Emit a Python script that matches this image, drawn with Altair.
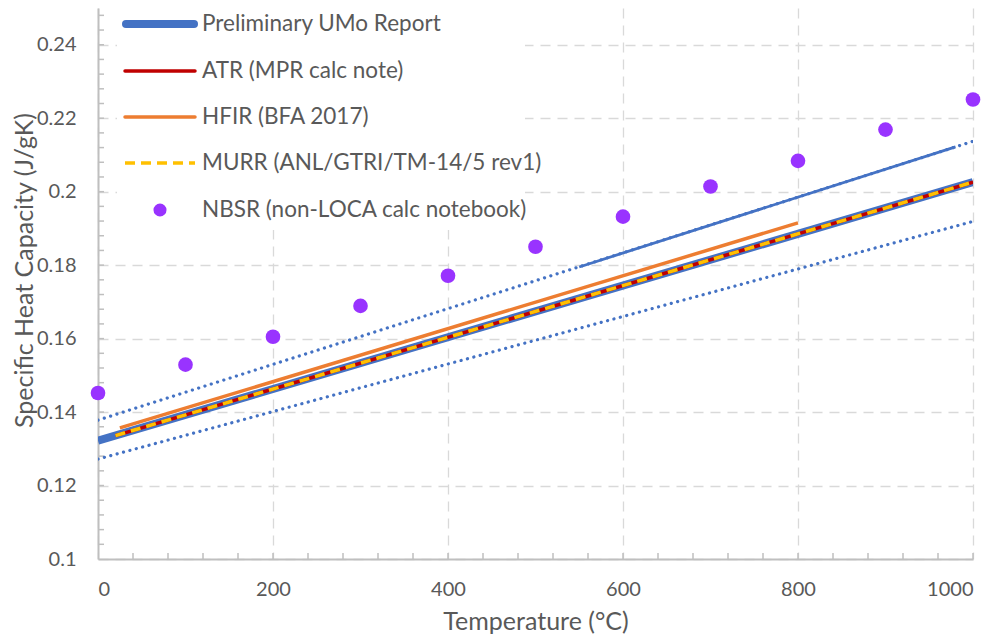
import altair as alt
import pandas as pd

FONT = "Lato"
TXT = "#595959"
AX = "#BFBFBF"
GRID = "#D9D9D9"

# ---- data ----
prelim_T = [0, 1000]
prelim_cp = [0.1322, 0.2026]

upper_T = [0, 1000]
upper_cp = [0.1378, 0.2137]
upper_solid_T = [550, 980]
upper_solid_cp = [0.1795, 0.2122]

lower_T = [0, 1000]
lower_cp = [0.1272, 0.1919]

atr_T = [20, 1000]
atr_cp = [0.1336, 0.2026]

hfir_T = [25, 800]
hfir_cp = [0.1357, 0.1915]

murr_T = [20, 1000]
murr_cp = [0.1336, 0.2026]

nbsr_T = [0, 100, 200, 300, 400, 500, 600, 700, 800, 900, 1000]
nbsr_cp = [0.1452, 0.1529, 0.1605, 0.1689, 0.1771, 0.1850, 0.1932, 0.2014, 0.2084, 0.2169, 0.2251]

x_ticks = [0, 200, 400, 600, 800, 1000]
y_ticks = [0.1, 0.12, 0.14, 0.16, 0.18, 0.2, 0.22, 0.24]
x_minor = [40 * i for i in range(1, 26)]
y_minor = [round(0.1 + 0.004 * i, 3) for i in range(1, 38)]

legend_labels = ["Preliminary UMo Report", "ATR (MPR calc note)", "HFIR (BFA 2017)",
                 "MURR (ANL/GTRI/TM-14/5 rev1)", "NBSR (non-LOCA calc notebook)"]

W, H = 875, 551

xs = alt.Scale(domain=[0, 1000], nice=False, zero=False)
ys = alt.Scale(domain=[0.1, 0.25], nice=False, zero=False)


def df(T, cp):
    return pd.DataFrame({"T": T, "cp": cp})


def line(T, cp, color, width, dash=None, cap="butt"):
    kw = dict(color=color, strokeWidth=width, strokeCap=cap, clip=True)
    if dash is not None:
        kw["strokeDash"] = dash
    return alt.Chart(df(T, cp)).mark_line(**kw).encode(
        x=alt.X("T:Q", scale=xs),
        y=alt.Y("cp:Q", scale=ys),
    )


# base layer with axes
base = alt.Chart(df(nbsr_T, nbsr_cp)).mark_point(opacity=0).encode(
    x=alt.X("T:Q", scale=xs, axis=alt.Axis(
        values=x_ticks, format="d", title="Temperature (°C)",
        grid=True, gridColor=GRID, gridDash=[10, 7], gridWidth=1.3,
        domainColor=AX, domainWidth=2, ticks=False,
        labelFont=FONT, labelFontSize=20, labelColor=TXT, labelPadding=20,
        titleFont=FONT, titleFontSize=25, titleColor=TXT, titleFontWeight="normal",
        titlePadding=10,
    )),
    y=alt.Y("cp:Q", scale=ys, axis=alt.Axis(
        values=y_ticks, format="~g", title="Specific Heat Capacity (J/gK)",
        grid=True, gridColor=GRID, gridDash=[10, 7], gridWidth=1.3,
        domainColor=AX, domainWidth=2, ticks=False,
        labelFont=FONT, labelFontSize=20, labelColor=TXT, labelPadding=22,
        titleFont=FONT, titleFontSize=25, titleColor=TXT, titleFontWeight="normal",
        titleX=-74, titleY=262, titleAlign="center", titleBaseline="middle",
    )),
)

xminor = alt.Chart(pd.DataFrame({"T": x_minor})).mark_rule(color=AX, strokeWidth=1.5).encode(
    x=alt.X("T:Q", scale=xs), y=alt.value(H), y2=alt.value(H - 6))
yminor = alt.Chart(pd.DataFrame({"cp": y_minor})).mark_rule(color=AX, strokeWidth=1.5).encode(
    y=alt.Y("cp:Q", scale=ys), x=alt.value(0), x2=alt.value(6))

lower = line(lower_T, lower_cp, "#4472C4", 3.2, [0.1, 6.5], "round")
upper = line(upper_T, upper_cp, "#4472C4", 3.2, [0.1, 6.5], "round")
upper_s = line(upper_solid_T, upper_solid_cp, "#4472C4", 2.8)
prelim = line(prelim_T, prelim_cp, "#4472C4", 8)
hfir = line(hfir_T, hfir_cp, "#ED7D31", 3.5)
atr = line(atr_T, atr_cp, "#C00000", 3.5)
murr = line(murr_T, murr_cp, "#FFC000", 3.5, [10, 6])

nbsr = alt.Chart(df(nbsr_T, nbsr_cp)).mark_circle(color="#9933FF", opacity=1, size=215).encode(
    x=alt.X("T:Q", scale=xs), y=alt.Y("cp:Q", scale=ys))

# ---- legend (decoration) ----
one = pd.DataFrame({"a": [0]})
leg_bg = alt.Chart(one).mark_rect(color="white").encode(
    x=alt.value(19), x2=alt.value(427), y=alt.value(0), y2=alt.value(222))
rows_y = [16, 63, 109, 155, 202]
leg_layers = [leg_bg]
leg_layers.append(alt.Chart(one).mark_rule(color="#4472C4", strokeWidth=8, strokeCap="round").encode(
    x=alt.value(28), x2=alt.value(96), y=alt.value(rows_y[0])))
leg_layers.append(alt.Chart(one).mark_rule(color="#C00000", strokeWidth=3.5, strokeCap="round").encode(
    x=alt.value(27), x2=alt.value(97), y=alt.value(rows_y[1])))
leg_layers.append(alt.Chart(one).mark_rule(color="#ED7D31", strokeWidth=3.5, strokeCap="round").encode(
    x=alt.value(27), x2=alt.value(97), y=alt.value(rows_y[2])))
leg_layers.append(alt.Chart(one).mark_rule(color="#FFC000", strokeWidth=3.5, strokeDash=[10, 6]).encode(
    x=alt.value(27), x2=alt.value(97), y=alt.value(rows_y[3])))
leg_layers.append(alt.Chart(one).mark_circle(color="#9933FF", opacity=1, size=170).encode(
    x=alt.value(62), y=alt.value(rows_y[4])))
for lab, ry in zip(legend_labels, rows_y):
    leg_layers.append(alt.Chart(one).mark_text(
        align="left", baseline="middle", font=FONT, fontSize=22.5, color=TXT).encode(
        x=alt.value(104), y=alt.value(ry), text=alt.value(lab)))

chart = alt.layer(
    base, xminor, yminor, lower, upper, upper_s, prelim, hfir, atr, murr, nbsr, *leg_layers
).properties(
    width=W, height=H,
    padding={"left": 98, "top": 8, "right": 27, "bottom": 82},
    autosize=alt.AutoSizeParams(type="none"),
    background="white",
).configure_view(strokeWidth=0)

chart.save("out.html", embed_options={"renderer": "svg", "actions": False})
